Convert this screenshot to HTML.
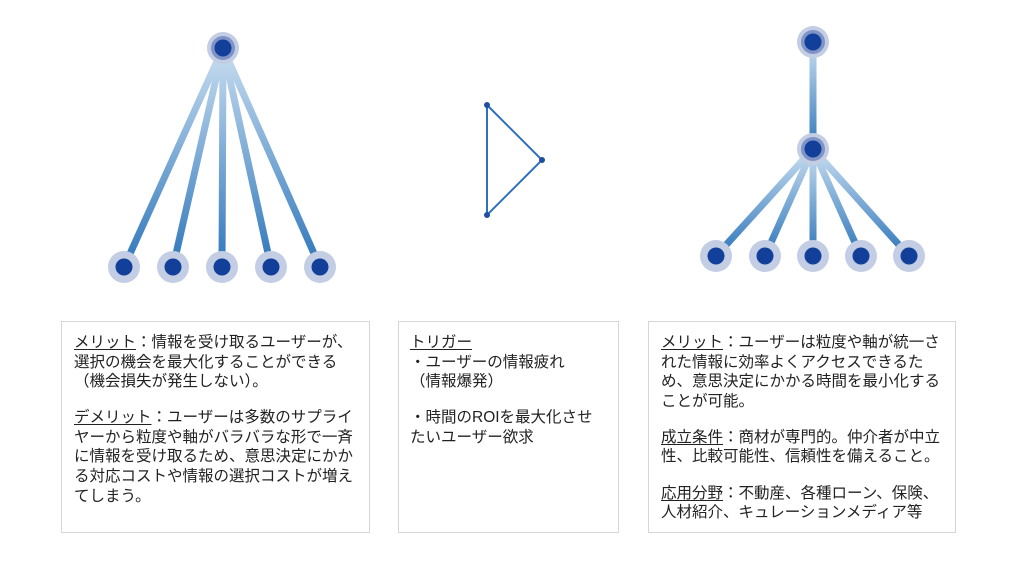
<!DOCTYPE html>
<html><head><meta charset="utf-8"><style>
body{margin:0;width:1024px;height:565px;background:#fff;position:relative;overflow:hidden;font-family:"Liberation Sans","Noto Sans CJK JP",sans-serif;color:#222}
.box{position:absolute;top:321px;height:212px;border:1px solid #d6d6d6;box-sizing:border-box;font-size:15.5px;line-height:19.6px;padding-top:11px;white-space:nowrap;letter-spacing:0}
.box p{margin:0 0 16.5px 0}
u{text-underline-offset:2px}
</style></head><body>
<svg width="1024" height="310" style="position:absolute;left:0;top:0">
<defs>
<linearGradient id="g1" gradientUnits="userSpaceOnUse" x1="0" y1="48" x2="0" y2="267"><stop offset="0" stop-color="#c9def0"/><stop offset="1" stop-color="#2f77bb"/></linearGradient>
<linearGradient id="g2" gradientUnits="userSpaceOnUse" x1="0" y1="42" x2="0" y2="149"><stop offset="0" stop-color="#c9def0"/><stop offset="1" stop-color="#2f77bb"/></linearGradient>
<linearGradient id="g3" gradientUnits="userSpaceOnUse" x1="0" y1="149" x2="0" y2="256"><stop offset="0" stop-color="#c9def0"/><stop offset="1" stop-color="#2f77bb"/></linearGradient>
</defs>
<g stroke="url(#g1)" stroke-width="7" stroke-linecap="round">
<line x1="223" y1="48" x2="124" y2="267"/><line x1="223" y1="48" x2="173" y2="267"/><line x1="223" y1="48" x2="222" y2="267"/><line x1="223" y1="48" x2="271" y2="267"/><line x1="223" y1="48" x2="320" y2="267"/>
</g>
<g stroke-width="7" stroke-linecap="round">
<line x1="813" y1="42" x2="813" y2="149" stroke="url(#g2)"/>
<g stroke="url(#g3)"><line x1="813" y1="149" x2="716" y2="256"/><line x1="813" y1="149" x2="765" y2="256"/><line x1="813" y1="149" x2="813" y2="256"/><line x1="813" y1="149" x2="861" y2="256"/><line x1="813" y1="149" x2="909" y2="256"/></g>
</g>
<g fill="#c3cde4">
<circle cx="223" cy="48" r="16"/><circle cx="124" cy="267" r="16"/><circle cx="173" cy="267" r="16"/><circle cx="222" cy="267" r="16"/><circle cx="271" cy="267" r="16"/><circle cx="320" cy="267" r="16"/>
<circle cx="813" cy="42" r="16"/><circle cx="813" cy="149" r="16"/><circle cx="716" cy="256" r="16"/><circle cx="765" cy="256" r="16"/><circle cx="813" cy="256" r="16"/><circle cx="861" cy="256" r="16"/><circle cx="909" cy="256" r="16"/>
</g>
<g fill="#7f93c6"><circle cx="223" cy="48" r="12"/><circle cx="813" cy="42" r="12"/><circle cx="813" cy="149" r="12"/></g>
<g fill="#123f99">
<circle cx="223" cy="48" r="8.5"/><circle cx="124" cy="267" r="8.5"/><circle cx="173" cy="267" r="8.5"/><circle cx="222" cy="267" r="8.5"/><circle cx="271" cy="267" r="8.5"/><circle cx="320" cy="267" r="8.5"/>
<circle cx="813" cy="42" r="8.5"/><circle cx="813" cy="149" r="8.5"/><circle cx="716" cy="256" r="8.5"/><circle cx="765" cy="256" r="8.5"/><circle cx="813" cy="256" r="8.5"/><circle cx="861" cy="256" r="8.5"/><circle cx="909" cy="256" r="8.5"/>
</g>
<polygon points="487,105 542,160 487,215" fill="none" stroke="#2f6fc0" stroke-width="2"/>
<g fill="#1f4f9f"><circle cx="487" cy="105" r="3"/><circle cx="542" cy="160" r="3"/><circle cx="487" cy="215" r="3"/></g>
</svg>
<div class="box" style="left:61px;width:309px;padding-left:12px">
<p><u>メリット</u>：情報を受け取るユーザーが、<br>選択の機会を最大化することができる<br>（機会損失が発生しない）。</p>
<p><u>デメリット</u>：ユーザーは多数のサプライ<br>ヤーから粒度や軸がバラバラな形で一斉<br>に情報を受け取るため、意思決定にかか<br>る対応コストや情報の選択コストが増え<br>てしまう。</p>
</div>
<div class="box" style="left:398px;width:221px;padding-left:11px">
<p><u>トリガー</u><br>・ユーザーの情報疲れ<br>（情報爆発）</p>
<p>・時間のROIを最大化させ<br>たいユーザー欲求</p>
</div>
<div class="box" style="left:648px;width:308px;padding-left:12px">
<p><u>メリット</u>：ユーザーは粒度や軸が統一さ<br>れた情報に効率よくアクセスできるた<br>め、意思決定にかかる時間を最小化する<br>ことが可能。</p>
<p><u>成立条件</u>：商材が専門的。仲介者が中立<br>性、比較可能性、信頼性を備えること。</p>
<p><u>応用分野</u>：不動産、各種ローン、保険、<br>人材紹介、キュレーションメディア等</p>
</div>
</body></html>
